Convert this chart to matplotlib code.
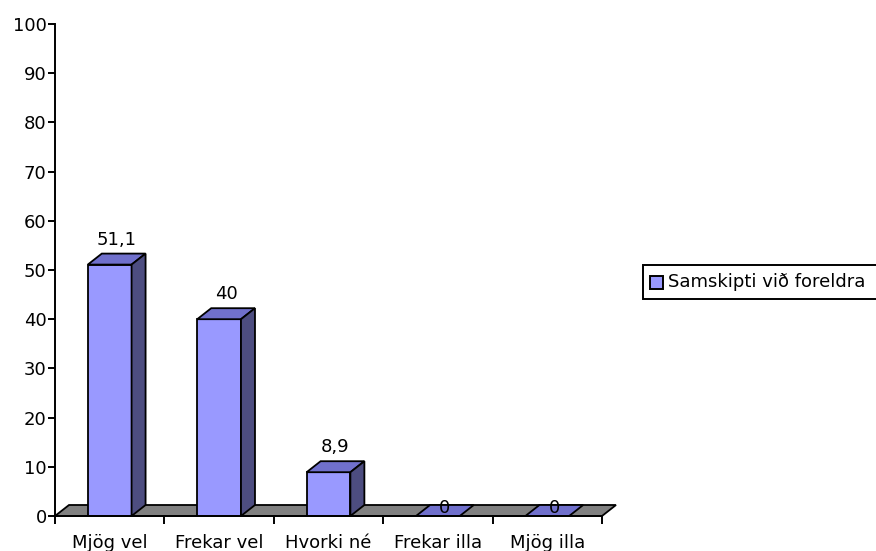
import matplotlib.pyplot as plt
from matplotlib.patches import Polygon, Rectangle

categories = ['Mjög vel', 'Frekar vel', 'Hvorki né', 'Frekar illa', 'Mjög illa']
values = [51.1, 40, 8.9, 0, 0]
value_labels = ['51,1', '40', '8,9', '0', '0']
series_name = 'Samskipti við foreldra'

front_col = '#9999FF'
top_col = '#7070CC'
side_col = '#4D4D80'
floor_col = '#808080'

plt.rcParams['font.family'] = ['DejaVu Sans']
fs = 13

W, H = 876, 551
fig = plt.figure(figsize=(W / 100, H / 100), dpi=100)
ax_l, ax_r, ax_b, ax_t = 55, 602, 516, 24
ax = fig.add_axes([ax_l / W, (H - ax_b) / H, (ax_r - ax_l) / W, (ax_b - ax_t) / H])
ax.set_xlim(0, len(categories))
ax.set_ylim(0, 100)

# depth offset of the 3d look, in data units
px_x = (ax_r - ax_l) / len(categories)
px_y = (ax_b - ax_t) / 100
dx = 14 / px_x
dy = 11 / px_y
bw = 0.40

floor = Polygon([(0, 0), (len(categories), 0), (len(categories) + dx, dy), (dx, dy)],
                closed=True, facecolor=floor_col, edgecolor='black', lw=1.3,
                clip_on=False, zorder=2)
ax.add_patch(floor)

for i, (v, lab) in enumerate(zip(values, value_labels)):
    c = i + 0.5
    x0, x1 = c - bw / 2, c + bw / 2
    if v > 0:
        ax.add_patch(Rectangle((x0, 0), bw, v, facecolor=front_col, edgecolor='black',
                               lw=1.3, clip_on=False, zorder=3))
        ax.add_patch(Polygon([(x0, v), (x1, v), (x1 + dx, v + dy), (x0 + dx, v + dy)],
                             closed=True, facecolor=top_col, edgecolor='black', lw=1.3,
                             clip_on=False, zorder=3))
        ax.add_patch(Polygon([(x1, 0), (x1 + dx, dy), (x1 + dx, v + dy), (x1, v)],
                             closed=True, facecolor=side_col, edgecolor='black', lw=1.3,
                             clip_on=False, zorder=3))
        ax.text(c + dx / 2, v + dy + 1.0, lab, ha='center', va='bottom', fontsize=fs, zorder=5)
    else:
        ax.add_patch(Polygon([(x0, 0), (x1, 0), (x1 + dx, dy), (x0 + dx, dy)],
                             closed=True, facecolor=top_col, edgecolor='black', lw=1.3,
                             clip_on=False, zorder=3))
        ax.text(c + dx / 2, dy / 2 + 0.6, lab, ha='center', va='center', fontsize=fs, zorder=5)

for s in ['top', 'right']:
    ax.spines[s].set_visible(False)
ax.spines['left'].set_linewidth(1.4)
ax.spines['bottom'].set_linewidth(1.4)
ax.spines['bottom'].set_zorder(4)

ax.set_yticks(range(0, 101, 10))
ax.set_yticklabels([str(t) for t in range(0, 101, 10)], fontsize=fs)
ax.tick_params(axis='y', length=5, width=1.4, pad=1)

ax.set_xticks([i + 0.5 for i in range(len(categories))])
ax.set_xticklabels(categories, fontsize=fs)
ax.set_xticks(range(len(categories) + 1), minor=True)
ax.tick_params(axis='x', which='major', length=0, pad=13)
ax.tick_params(axis='x', which='minor', length=6, width=1.4)

# legend box, drawn by hand (it runs off the right edge)
lx0, ly0, ly1 = 643, 265, 299
fig.patches.append(Rectangle((lx0 / W, (H - ly1) / H), (W - lx0 + 10) / W, (ly1 - ly0) / H,
                             transform=fig.transFigure, facecolor='white', edgecolor='black',
                             lw=1.4, clip_on=False))
fig.patches.append(Rectangle((650 / W, (H - 289) / H), 13 / W, 13 / H,
                             transform=fig.transFigure, facecolor=front_col, edgecolor='black',
                             lw=1.4))
fig.text(668 / W, (H - 282) / H, series_name, fontsize=fs, va='center', ha='left')

fig.savefig('out.png', dpi=100)
